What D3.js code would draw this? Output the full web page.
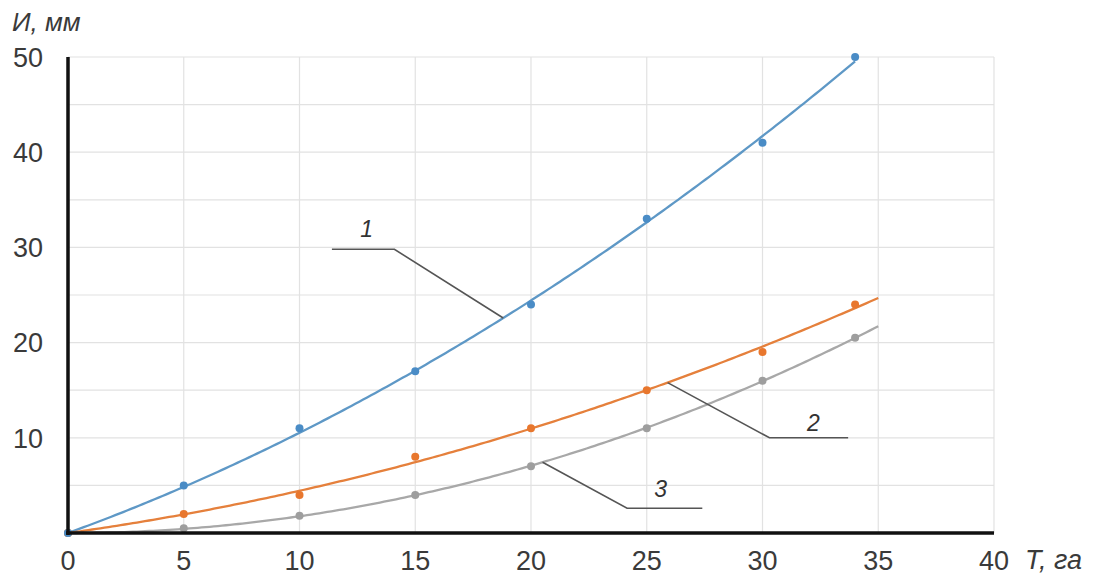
<!DOCTYPE html>
<html><head><meta charset="utf-8">
<script src="https://cdn.jsdelivr.net/npm/d3@7"></script>
<style>
html,body{margin:0;padding:0;background:#fff;}
text{font-family:"Liberation Sans",Arial,sans-serif;}
</style></head>
<body><svg id="c" width="1098" height="576"></svg>
<script>
// ---- data ----
const xValues = [0, 5, 10, 15, 20, 25, 30, 34];
const series1 = [0, 5, 11, 17, 24, 33, 41, 50];
const series2 = [0, 2, 4, 8, 11, 15, 19, 24];
const series3 = [0, 0.5, 1.8, 4, 7, 11, 16, 20.5];
const trendEnds = [34, 35, 35];
const xTicks = [0, 5, 10, 15, 20, 25, 30, 35, 40];
const yTicks = [10, 20, 30, 40, 50];
const yGrid = [5, 10, 15, 20, 25, 30, 35, 40, 45, 50];
const xTitle = "T, га";
const yTitle = "И, мм";
// leader annotations (data units)
const annoLabel = ["1", "2", "3"];
const annoCurveX = [18.8, 25.9, 20.5];
const annoElbow = [[14.1, 29.8], [30.3, 10], [24.15, 2.6]];
const annoEnd = [11.4, 33.7, 27.4];
const annoLabelPos = [[12.9, 32], [32.2, 11.6], [25.6, 4.7]];

const colors = ["#5e98c6", "#e5803c", "#a8a8a8"];
const markerColors = ["#4a8cc6", "#e8772e", "#9e9e9e"];

const svg = d3.select("#c");
const L = 68, R = 994, T = 57, B = 533;
const x = d3.scaleLinear().domain([0, 40]).range([L, R]);
const y = d3.scaleLinear().domain([0, 50]).range([B, T]);

// grid
svg.append("g").selectAll("line").data(yGrid).join("line")
  .attr("x1", L).attr("x2", R).attr("y1", d => y(d)).attr("y2", d => y(d))
  .attr("stroke", "#e2e2e2").attr("stroke-width", 1.2);
svg.append("g").selectAll("line").data(xTicks.slice(1)).join("line")
  .attr("x1", d => x(d)).attr("x2", d => x(d)).attr("y1", T).attr("y2", B)
  .attr("stroke", "#e2e2e2").attr("stroke-width", 1.2);

// quadratic least-squares trendline through the origin: y = a x + b x^2
function quadFit(xs, ys) {
  let s2 = 0, s3 = 0, s4 = 0, t1 = 0, t2 = 0;
  xs.forEach((xv, i) => {
    s2 += xv * xv; s3 += xv ** 3; s4 += xv ** 4;
    t1 += ys[i] * xv; t2 += ys[i] * xv * xv;
  });
  const det = s2 * s4 - s3 * s3;
  const a = (t1 * s4 - s3 * t2) / det;
  const b = (s2 * t2 - s3 * t1) / det;
  return xv => a * xv + b * xv * xv;
}

const allSeries = [series1, series2, series3];
const line = d3.line().x(d => x(d[0])).y(d => y(d[1]));
allSeries.forEach((s, i) => {
  const f = quadFit(xValues, s);
  const pts = d3.range(0, trendEnds[i] + 0.001, trendEnds[i] / 200).map(v => [v, Math.max(0, f(v))]);
  svg.append("path").datum(pts).attr("d", line)
    .attr("fill", "none").attr("stroke", colors[i]).attr("stroke-width", 2.3);
});
[2, 1, 0].forEach(i => {
  svg.append("g").selectAll("circle").data(xValues.map((v, j) => [v, allSeries[i][j]])).join("circle")
    .attr("cx", d => x(d[0])).attr("cy", d => y(d[1])).attr("r", 4)
    .attr("fill", markerColors[i]);
});

// axes
svg.append("line").attr("x1", L).attr("x2", L).attr("y1", T).attr("y2", B + 2)
  .attr("stroke", "#111").attr("stroke-width", 3.5);
svg.append("line").attr("x1", L - 2).attr("x2", R).attr("y1", B).attr("y2", B)
  .attr("stroke", "#111").attr("stroke-width", 3.5);

// tick labels
svg.append("g").selectAll("text").data(yTicks).join("text")
  .attr("x", 43).attr("y", d => y(d)).attr("dy", "0.36em").attr("text-anchor", "end")
  .attr("font-size", 27).attr("fill", "#3a3a3a").text(d => d);
svg.append("g").selectAll("text").data(xTicks).join("text")
  .attr("x", d => x(d)).attr("y", 570).attr("text-anchor", "middle")
  .attr("font-size", 27).attr("fill", "#3a3a3a").text(d => d);

// axis titles
svg.append("text").attr("x", 12).attr("y", 31).attr("font-size", 26).attr("font-style", "italic")
  .attr("fill", "#3a3a3a").text(yTitle);
svg.append("text").attr("x", 1025).attr("y", 569).attr("font-size", 27).attr("font-style", "italic")
  .attr("fill", "#3a3a3a").text(xTitle);

// annotations
allSeries.forEach((s, i) => {
  const f = quadFit(xValues, s);
  const pts = [[annoCurveX[i], f(annoCurveX[i])], annoElbow[i], [annoEnd[i], annoElbow[i][1]]];
  svg.append("path").datum(pts).attr("d", line).attr("fill", "none")
    .attr("stroke", "#555").attr("stroke-width", 1.6);
  svg.append("text").attr("x", x(annoLabelPos[i][0])).attr("y", y(annoLabelPos[i][1]))
    .attr("dy", "0.36em").attr("text-anchor", "middle")
    .attr("font-size", 23).attr("font-style", "italic").attr("fill", "#333").text(annoLabel[i]);
});
</script></body></html>
